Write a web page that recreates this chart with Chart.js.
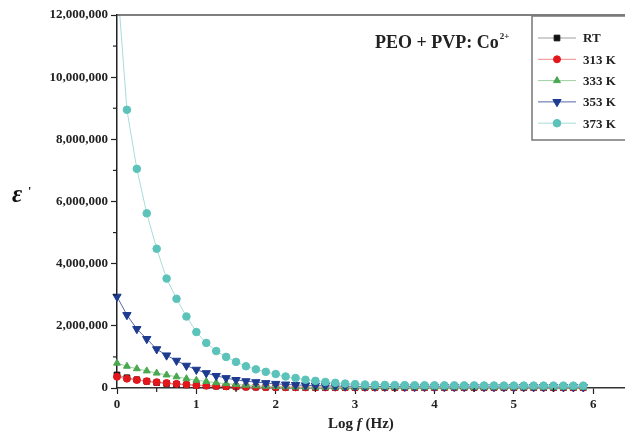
<!DOCTYPE html>
<html>
<head>
<meta charset="utf-8">
<script src="https://cdn.jsdelivr.net/npm/chart.js@4/dist/chart.umd.min.js"></script>
<style>
  html, body { margin: 0; padding: 0; background: #fff; overflow: hidden; }
  #wrap { width: 650px; height: 433px; }
</style>
</head>
<body>
<div id="wrap"><canvas id="eps" width="650" height="433"></canvas></div>
<script>
// log of frequency (Hz)
const logF = [
  0, 0.125, 0.25, 0.375, 0.5, 0.625, 0.75, 0.875,
  1, 1.125, 1.25, 1.375, 1.5, 1.625, 1.75, 1.875,
  2, 2.125, 2.25, 2.375, 2.5, 2.625, 2.75, 2.875,
  3, 3.125, 3.25, 3.375, 3.5, 3.625, 3.75, 3.875,
  4, 4.125, 4.25, 4.375, 4.5, 4.625, 4.75, 4.875,
  5, 5.125, 5.25, 5.375, 5.5, 5.625, 5.75, 5.875
];

// real part of permittivity, one list per temperature
const epsRT = [
  420000, 330000, 265000, 215000, 175000, 145000, 120000, 100000,
  84000, 70000, 58000, 48000, 40000, 34000, 29000, 25000,
  22000, 20000, 18500, 17500, 16500, 16000, 15500, 15000,
  14600, 14300, 14000, 13700, 13400, 13200, 13000, 12800,
  12600, 12400, 12200, 12000, 11800, 11600, 11400, 11200,
  11000, 10800, 10600, 10400, 10200, 10000, 9800, 9600
];
const eps313 = [
  360000, 300000, 258000, 220000, 188000, 160000, 133000, 112000,
  92000, 76000, 63000, 52000, 43000, 36000, 31000, 27000,
  24000, 22000, 20500, 19500, 18500, 17800, 17200, 16700,
  16300, 16000, 15700, 15400, 15100, 14800, 14600, 14400,
  14200, 14000, 13800, 13600, 13400, 13200, 13000, 12800,
  12600, 12400, 12200, 12000, 11800, 11600, 11400, 11200
];
const eps333 = [
  800000, 700000, 620000, 550000, 480000, 420000, 360000, 300000,
  250000, 210000, 170000, 140000, 112000, 90000, 72000, 58000,
  47000, 39000, 34000, 30000, 28000, 26500, 25500, 24700,
  24000, 23400, 22900, 22400, 22000, 21600, 21200, 20800,
  20500, 20200, 19900, 19600, 19300, 19000, 18700, 18400,
  18100, 17800, 17500, 17200, 16900, 16600, 16300, 16000
];
const eps353 = [
  2940000, 2350000, 1900000, 1580000, 1250000, 1050000, 880000, 720000,
  590000, 480000, 390000, 320000, 260000, 220000, 190000, 160000,
  135000, 115000, 100000, 88000, 78000, 70000, 63000, 58000,
  54000, 51000, 49000, 47000, 45500, 44000, 43000, 42000,
  41000, 40200, 39500, 38800, 38100, 37500, 36900, 36300,
  35700, 35100, 34500, 34000, 33500, 33000, 32500, 32000
];
const eps373 = [
  13200000, 8950000, 7050000, 5620000, 4480000, 3520000, 2870000, 2300000,
  1800000, 1450000, 1190000, 1000000, 840000, 700000, 600000, 520000,
  450000, 370000, 320000, 265000, 230000, 195000, 165000, 142000,
  125000, 113000, 105000, 99000, 95000, 92000, 90000, 88500,
  87000, 86000, 85000, 84000, 83200, 82400, 81600, 80800,
  80000, 79300, 78600, 77900, 77200, 76500, 75800, 75100
];

const seriesLabels = ['RT', '313 K', '333 K', '353 K', '373 K'];
const xTicks = [0, 1, 2, 3, 4, 5, 6];
const xMinor = [0.5, 1.5, 2.5, 3.5, 4.5, 5.5];
const yTicks = [0, 2000000, 4000000, 6000000, 8000000, 10000000, 12000000];
const yMinor = [1000000, 3000000, 5000000, 7000000, 9000000, 11000000];

const styles = [
  { fill: '#111111', line: '#a0a0a0', shape: 'rect', rot: 0, r: 4 },
  { fill: '#e3161b', line: '#ef8a8c', shape: 'circle', rot: 0, r: 3.5 },
  { fill: '#4aa84f', line: '#9fd0a0', shape: 'triangle', rot: 0, r: 4 },
  { fill: '#1d3b8f', line: '#5467a8', shape: 'triangle', rot: 180, r: 4.8 },
  { fill: '#5cc3bb', line: '#a9dcd8', shape: 'circle', rot: 0, r: 3.8 }
];
const allSeries = [epsRT, eps313, eps333, eps353, eps373];

const serif = '"Liberation Serif", "Times New Roman", serif';

const datasets = allSeries.map((vals, i) => ({
  label: seriesLabels[i],
  data: logF.map((x, k) => ({ x: x, y: vals[k] })),
  borderColor: styles[i].line,
  borderWidth: 1,
  backgroundColor: styles[i].fill,
  pointStyle: styles[i].shape,
  pointRotation: styles[i].rot,
  pointRadius: styles[i].r,
  pointBackgroundColor: styles[i].fill,
  pointBorderColor: styles[i].fill,
  pointBorderWidth: 1,
  tension: 0,
  order: 5 - i,
  clip: { left: 6, top: 0, right: 6, bottom: 6 }
}));

function drawMark(ctx, st, x, y) {
  ctx.fillStyle = st.fill;
  ctx.strokeStyle = st.fill;
  ctx.lineWidth = 1;
  if (Chart.helpers && Chart.helpers.drawPoint) {
    Chart.helpers.drawPoint(ctx, { pointStyle: st.shape, rotation: st.rot, radius: st.r, borderWidth: 1 }, x, y);
  } else {
    ctx.beginPath();
    ctx.arc(x, y, st.r, 0, Math.PI * 2);
    ctx.fill();
  }
}

const decor = {
  id: 'decor',
  afterDraw(chart) {
    const ctx = chart.ctx;
    const a = chart.chartArea;
    const xs = chart.scales.x;
    const ys = chart.scales.y;
    ctx.save();

    // top frame line
    ctx.strokeStyle = '#555';
    ctx.lineWidth = 1.5;
    ctx.beginPath();
    ctx.moveTo(a.left, a.top);
    ctx.lineTo(a.right, a.top);
    ctx.stroke();

    // minor ticks
    ctx.strokeStyle = '#222';
    ctx.lineWidth = 1.2;
    yMinor.forEach(v => {
      const py = ys.getPixelForValue(v);
      ctx.beginPath();
      ctx.moveTo(a.left - 4, py);
      ctx.lineTo(a.left, py);
      ctx.stroke();
    });
    xMinor.forEach(v => {
      const px = xs.getPixelForValue(v);
      ctx.beginPath();
      ctx.moveTo(px, a.bottom);
      ctx.lineTo(px, a.bottom + 4);
      ctx.stroke();
    });

    // annotation
    ctx.fillStyle = '#222';
    ctx.textBaseline = 'alphabetic';
    ctx.textAlign = 'left';
    ctx.font = 'bold 18px ' + serif;
    const main = 'PEO + PVP: Co';
    ctx.fillText(main, 375, 48);
    const w = ctx.measureText(main).width;
    ctx.font = 'bold 9px ' + serif;
    ctx.fillText('2+', 375 + w + 1, 39);

    // y title
    ctx.fillStyle = '#111';
    ctx.font = 'bold italic 25px ' + serif;
    ctx.fillText('\u03b5', 12, 202);
    ctx.font = 'bold 12px ' + serif;
    ctx.fillText('\'', 28, 195);

    // x title
    ctx.fillStyle = '#222';
    ctx.font = 'bold 15px ' + serif;
    let tx = 328;
    const ty = 428;
    ctx.fillText('Log ', tx, ty);
    tx += ctx.measureText('Log ').width;
    ctx.font = 'bold italic 15px ' + serif;
    ctx.fillText('f', tx, ty);
    tx += ctx.measureText('f').width;
    ctx.font = 'bold 15px ' + serif;
    ctx.fillText(' (Hz)', tx, ty);

    // legend box
    ctx.strokeStyle = '#777';
    ctx.lineWidth = 1.5;
    ctx.fillStyle = '#fff';
    ctx.fillRect(532, 16, 140, 124);
    ctx.strokeRect(532, 16, 140, 124);
    seriesLabels.forEach((lab, i) => {
      const st = styles[i];
      const ly = 38 + i * 21.3;
      ctx.strokeStyle = st.line;
      ctx.lineWidth = 1;
      ctx.beginPath();
      ctx.moveTo(538, ly);
      ctx.lineTo(576, ly);
      ctx.stroke();
      drawMark(ctx, st, 557, ly);
      ctx.fillStyle = '#222';
      ctx.font = 'bold 13px ' + serif;
      ctx.textBaseline = 'middle';
      ctx.fillText(lab, 583, ly + 1);
    });
    ctx.restore();
  }
};

new Chart(document.getElementById('eps'), {
  type: 'line',
  data: { datasets: datasets },
  options: {
    responsive: false,
    animation: false,
    layout: { padding: { top: 15, right: 10, left: 0, bottom: 0 } },
    plugins: { legend: { display: false }, tooltip: { enabled: false } },
    scales: {
      x: {
        type: 'linear',
        min: 0,
        max: 6.59,
        afterBuildTicks: s => { s.ticks = xTicks.map(v => ({ value: v })); },
        afterFit: s => { s.height = 45; },
        grid: { drawOnChartArea: false, drawTicks: true, tickLength: 6, tickColor: '#222', tickWidth: 1.2 },
        border: { display: true, color: '#333', width: 1.5 },
        ticks: {
          padding: 3,
          color: '#222',
          font: { family: serif, size: 13, weight: 'bold' },
          maxRotation: 0,
          callback: v => String(v)
        }
      },
      y: {
        type: 'linear',
        min: 0,
        max: 12000000,
        afterBuildTicks: s => { s.ticks = yTicks.map(v => ({ value: v })); },
        afterFit: s => { s.width = 117; },
        grid: { drawOnChartArea: false, drawTicks: true, tickLength: 6, tickColor: '#222', tickWidth: 1.2 },
        border: { display: true, color: '#222', width: 1.5 },
        ticks: {
          padding: 3,
          color: '#222',
          font: { family: serif, size: 13, weight: 'bold' },
          callback: v => Number(v).toLocaleString('en-US')
        }
      }
    }
  },
  plugins: [decor]
});
</script>
</body>
</html>
